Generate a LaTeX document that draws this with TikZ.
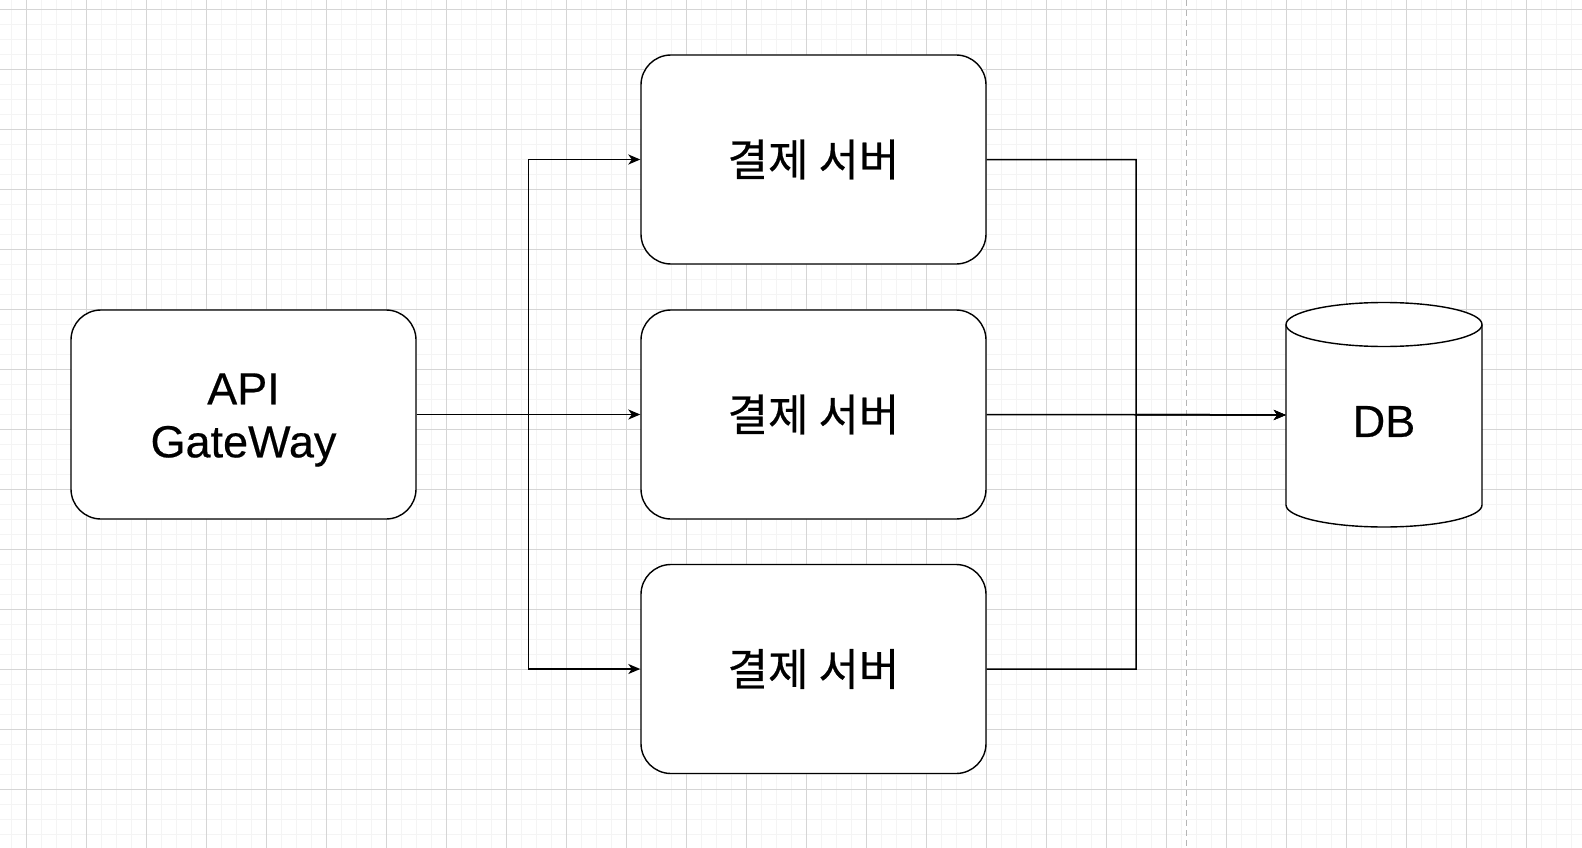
\documentclass[tikz,border=0pt]{standalone}
\usepackage{fontspec}
\setmainfont{Liberation Sans}
\newfontfamily\latfont[FakeBold=0.4]{Liberation Sans}
\newfontfamily\kofont[FakeBold=0.5]{Noto Sans CJK KR}
\usetikzlibrary{arrows.meta}
\definecolor{gridminor}{HTML}{F4F4F4}
\definecolor{gridmajor}{HTML}{D5D5D5}
\definecolor{dashgray}{HTML}{B5B5B5}
\begin{document}
\begin{tikzpicture}[x=1pt,y=-1pt,
  box/.style={draw=black, line width=1.4pt, rounded corners=30pt, fill=white, minimum width=345pt, minimum height=209pt, inner sep=0pt},
  lbl/.style={font=\latfont\fontsize{45}{53}\selectfont, align=center, inner sep=0pt},
  kolbl/.style={font=\kofont\fontsize{44}{52}\selectfont, inner sep=0pt},
  conn/.style={line width=1.5pt, draw=black},
  arr/.style={conn, -{Stealth[length=12pt,width=10pt,inset=3.5pt]}},
  minorline/.style={draw=gridminor, line width=1pt},
  majorline/.style={draw=gridmajor, line width=1pt},
  sepline/.style={draw=dashgray, line width=1pt, dash pattern=on 6pt off 4pt},
  cyl/.style={draw=black, line width=1.4pt, fill=white},
]
\fill[white] (0,0) rectangle (1582,848);
\useasboundingbox (0,0) rectangle (1582,848);
% grid
\foreach \x in {11.5,26.5,...,1582} \draw[minorline] (\x,0) -- (\x,848);
\foreach \y in {9.5,24.5,...,848} \draw[minorline] (0,\y) -- (1582,\y);
\foreach \x in {26.5,86.5,...,1582} \draw[majorline] (\x,0) -- (\x,848);
\foreach \y in {9.5,69.5,...,848} \draw[majorline] (0,\y) -- (1582,\y);
\draw[sepline] (1186,0) -- (1186,848);

% nodes
\node[box] (api) at (243.5,414.5) {};
\node[lbl] (apit) at (243.5,420) {API\\GateWay};
\node[box] (s1) at (813.5,159.5) {};
\node[kolbl] (s1t) at (s1.center) {결제 서버};
\node[box] (s2) at (813.5,414.5) {};
\node[kolbl] (s2t) at (s2.center) {결제 서버};
\node[box] (s3) at (813.5,669) {};
\node[kolbl] (s3t) at (s3.center) {결제 서버};

\node[minimum width=196pt, minimum height=225pt, inner sep=0pt] (db) at (1384,415) {};
\draw[cyl] (1286,324.5) -- (1286,505) arc(180:360:98pt and 22pt) -- (1482,324.5) arc(0:180:98pt and 22pt) -- cycle;
\draw[cyl, fill=none] (1286,324.5) arc(180:360:98pt and 22pt);
\node[lbl] (dbt) at (1384,421.5) {DB};

% connectors
\coordinate (jl) at (528.7,414.5);
\coordinate (jr) at (1136,414.5);
\draw[arr] (api.east) -- (jl) |- (s1.west);
\draw[arr] (api.east) -- (s2.west);
\draw[arr] (api.east) -- (jl) |- (s3.west);
\draw[arr] (s1.east) -| (jr) -- (db.west);
\draw[arr] (s2.east) -- (db.west);
\draw[arr] (s3.east) -| (jr) -- (db.west);
\end{tikzpicture}
\end{document}
